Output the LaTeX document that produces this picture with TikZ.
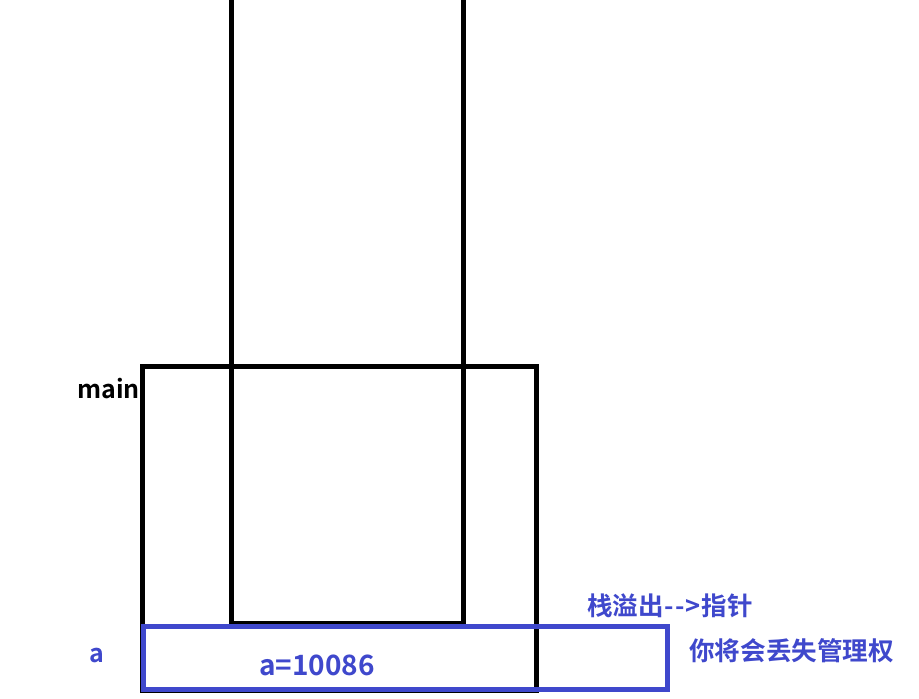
\documentclass[tikz,border=0pt]{standalone}
\usepackage{fontspec}
\setmainfont{Noto Sans CJK SC}[BoldFont={* Bold}]
\definecolor{paintblue}{HTML}{3F48CC}
\begin{document}
\begin{tikzpicture}[x=1pt,y=-1pt,
  blk/.style={draw=black,line width=5pt},
  blu/.style={draw=paintblue,line width=5pt},
  lbl/.style={font=\bfseries\fontsize{25}{27}\selectfont,inner sep=0pt},
  bluelbl/.style={lbl,text=paintblue}]
\useasboundingbox[fill=white] (0,0) rectangle (919,699);
% tall open-top rectangle
\draw[blk,line join=miter] (231,0) -- (231,623) -- (463,623) -- (463,0);
% main frame
\draw[blk,line join=miter] (142,366) rectangle (536,690);
% blue slot
\draw[blu,line join=miter] (143,626) rectangle (667,689);
% labels
\node[lbl,anchor=east] (main) at (140,389) {main};
\node[bluelbl] (avar) at (97,655) {a};
\node[bluelbl,font=\bfseries\fontsize{28}{30}\selectfont] (aval) at (317,665) {a=10086};
\node[bluelbl,anchor=west,font=\bfseries\fontsize{25.5}{27}\selectfont] (overflow) at (587,606) {栈溢出\kern1pt{-}\kern1pt{-}\kern1pt>\kern1pt指针};
\node[bluelbl,anchor=west,font=\bfseries\fontsize{25.6}{27}\selectfont] (lose) at (689,651) {你将会丢失管理权};
\end{tikzpicture}
\end{document}
